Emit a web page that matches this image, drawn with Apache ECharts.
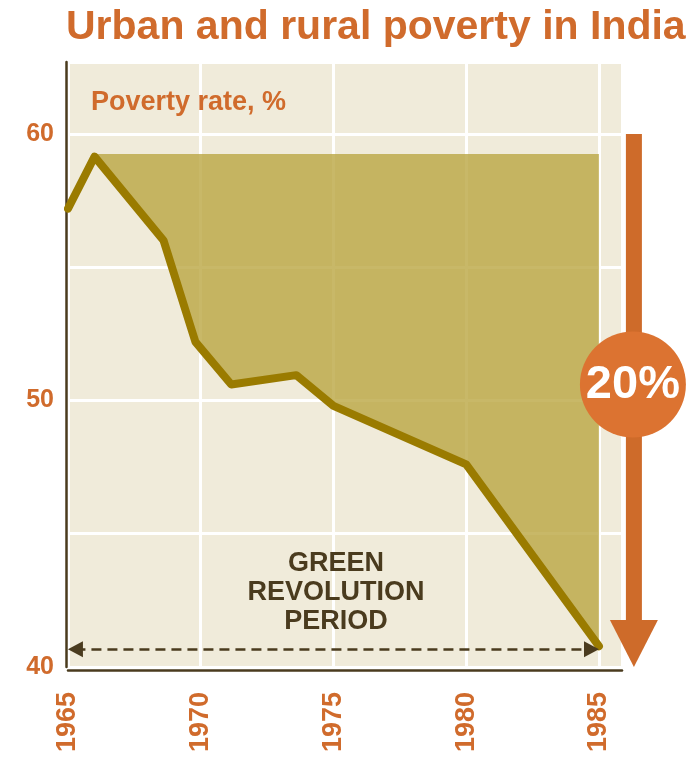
<!DOCTYPE html>
<html>
<head>
<meta charset="utf-8">
<script src="https://cdn.jsdelivr.net/npm/echarts@6/dist/echarts.min.js"></script>
<style>
  html, body { margin: 0; padding: 0; background: #ffffff; }
  #chart { width: 696px; height: 757px; }
</style>
</head>
<body>
<div id="chart"></div>
<script>
// Poverty rate (%) in India, 1965-1985
const years = [1965, 1966, 1968.6, 1969.8, 1971.15, 1973.6, 1975, 1980, 1985];
const povertyRate = [57.2, 59.15, 56.0, 52.2, 50.6, 50.95, 49.8, 47.6, 40.78];

// Axis ticks
const xTickLabels = [1965, 1970, 1975, 1980, 1985];
const yTickLabels = [40, 50, 60];

// Shaded gap between the 1966 peak level and the falling rate
const shadeTop = 59.25;
const shadeFrom = 1966;
const shadeTo = 1985;

// Green Revolution period marker
const periodStart = 1965;
const periodEnd = 1985;
const periodLevel = 40.67;
const periodText = 'GREEN\nREVOLUTION\nPERIOD';
const periodTextAt = [1975.1, 42.8];

// Overall drop called out on the right
const dropFrom = 60;
const dropTo = 40;
const dropText = '20%';
const dropBadgeLevel = 50.6;

const ORANGE = '#D06B2C';
const BROWN = '#4A3B1E';
const FONT = '"Liberation Sans", Arial, Helvetica, sans-serif';

const chart = echarts.init(document.getElementById('chart'), null, { renderer: 'canvas' });

const linePoints = years.map((y, i) => [y, povertyRate[i]]);

// arrowheads of the period marker sit inside the span, tips on its ends
const tipInset = 0.28;

chart.setOption({
  animation: false,
  textStyle: { fontFamily: FONT },
  title: [
    {
      text: 'Urban and rural poverty in India',
      left: 61, top: 2,
      textStyle: { color: ORANGE, fontSize: 41, fontWeight: 'bold', fontFamily: FONT }
    },
    {
      text: 'Poverty rate, %',
      left: 86, top: 84,
      textStyle: { color: ORANGE, fontSize: 27, fontWeight: 'bold', fontFamily: FONT }
    }
  ],
  grid: {
    left: 68, right: 74, top: 62, bottom: 90,
    show: true, backgroundColor: '#F0EBDA', borderWidth: 0
  },
  xAxis: {
    type: 'value',
    min: 1965, max: 1985.87, interval: 5,
    offset: 3,
    axisLine: { show: true, lineStyle: { color: BROWN, width: 2.5 } },
    axisTick: { show: false },
    splitLine: { show: true, lineStyle: { color: '#ffffff', width: 3 } },
    axisLabel: {
      rotate: 90, margin: 22,
      color: ORANGE, fontSize: 27, fontWeight: 'bold', fontFamily: FONT,
      showMaxLabel: false,
      formatter: v => xTickLabels.includes(v) ? String(v) : ''
    }
  },
  yAxis: {
    type: 'value',
    min: 40, max: 62.7, interval: 5,
    offset: 2,
    axisLine: { show: true, lineStyle: { color: BROWN, width: 2.5 } },
    axisTick: { show: false },
    splitLine: { show: true, lineStyle: { color: '#ffffff', width: 3 } },
    axisLabel: {
      margin: 12,
      color: ORANGE, fontSize: 25, fontWeight: 'bold', fontFamily: FONT,
      showMaxLabel: false,
      formatter: v => yTickLabels.includes(v) ? String(v) : ''
    }
  },
  series: [
    {
      type: 'custom',
      name: 'gap',
      silent: true,
      z: 2,
      data: [[shadeFrom, shadeTop]],
      renderItem: (params, api) => {
        const pts = [api.coord([shadeFrom, shadeTop]), api.coord([shadeTo, shadeTop])];
        for (let i = years.length - 1; i >= 0; i--) {
          if (years[i] >= shadeFrom) pts.push(api.coord([years[i], povertyRate[i]]));
        }
        return { type: 'polygon', shape: { points: pts }, style: { fill: 'rgba(186,166,66,0.8)' } };
      }
    },
    {
      type: 'line',
      name: 'Poverty rate',
      data: linePoints,
      z: 3,
      symbol: 'none',
      lineStyle: { color: '#9A7B00', width: 8, join: 'round', cap: 'round' },
      markLine: {
        silent: true,
        symbol: ['triangle', 'triangle'],
        symbolSize: [16, 15],
        label: { show: false },
        lineStyle: { type: [10, 6], color: BROWN, width: 2.5 },
        data: [[
          { coord: [periodStart + tipInset, periodLevel] },
          { coord: [periodEnd - tipInset, periodLevel] }
        ]]
      }
    }
  ]
});

// Annotations anchored to data positions
function drawAnnotations() {
  const toPx = v => chart.convertToPixel({ gridIndex: 0 }, v);
  const textPos = toPx(periodTextAt);
  const yTop = toPx([periodEnd, dropFrom])[1];
  const yTip = toPx([periodEnd, dropTo])[1];
  const xArrow = toPx([periodEnd, dropTo])[0] + 35;
  const headH = 47, headHalf = 24, shaftHalf = 8;
  const yCircle = toPx([periodEnd, dropBadgeLevel])[1];

  chart.setOption({
    graphic: [
      {
        type: 'text', z: 10,
        x: textPos[0], y: textPos[1],
        style: {
          text: periodText, fill: BROWN, font: 'bold 27px ' + FONT,
          align: 'center', verticalAlign: 'middle', lineHeight: 29
        }
      },
      {
        type: 'rect', z: 10,
        shape: { x: xArrow - shaftHalf, y: yTop, width: shaftHalf * 2, height: yTip - headH - yTop + 1 },
        style: { fill: '#CE6B2A' }
      },
      {
        type: 'polygon', z: 10,
        shape: { points: [[xArrow - headHalf, yTip - headH], [xArrow + headHalf, yTip - headH], [xArrow, yTip]] },
        style: { fill: '#CE6B2A' }
      },
      {
        type: 'circle', z: 11,
        shape: { cx: xArrow - 1, cy: yCircle, r: 53 },
        style: { fill: '#DC7331' }
      },
      {
        type: 'text', z: 12,
        x: xArrow - 1, y: yCircle + 1,
        style: {
          text: dropText, fill: '#ffffff', font: 'bold 47px ' + FONT,
          align: 'center', verticalAlign: 'middle'
        }
      }
    ]
  });
}
drawAnnotations();
</script>
</body>
</html>
